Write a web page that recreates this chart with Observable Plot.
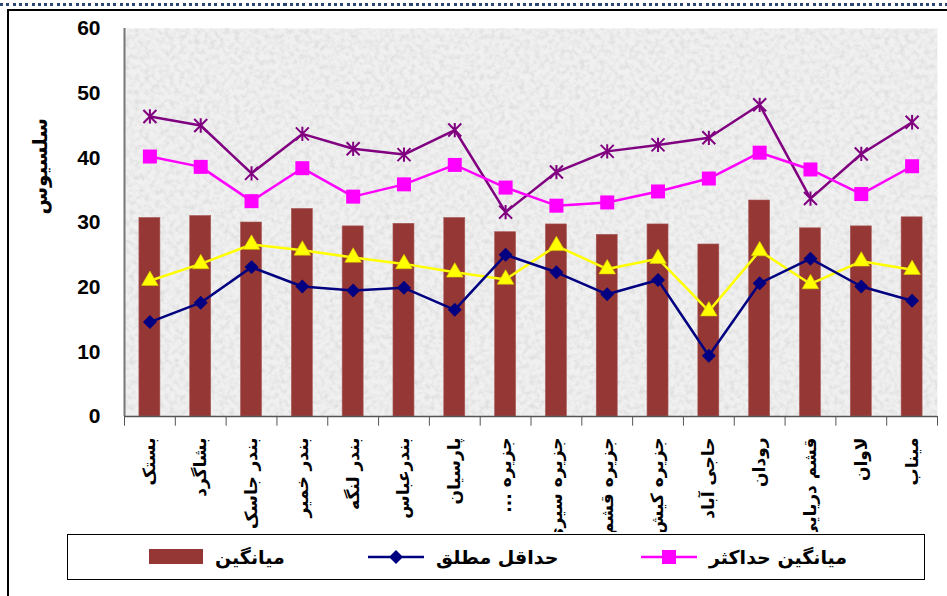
<!DOCTYPE html>
<html><head><meta charset="utf-8">
<script src="https://cdn.jsdelivr.net/npm/d3@7"></script>
<script src="https://cdn.jsdelivr.net/npm/@observablehq/plot@0.6"></script>
<style>
body{margin:0;background:#fff;}
#wrap{position:relative;width:947px;height:596px;overflow:hidden;background:#fff;}
#dots{position:absolute;left:0;top:3px;width:947px;height:3px;background:repeating-linear-gradient(to right,#2b4673 0 3px,transparent 3px 6.3px);}
#border{position:absolute;left:7px;top:9px;width:1200px;height:800px;border-top:2px solid #000;border-left:2px solid #000;}
#chart{position:absolute;left:0;top:0;}
#legend{position:absolute;left:67px;top:534px;width:858px;height:46px;border:1.5px solid #000;background:#fff;box-sizing:border-box;font-family:"DejaVu Sans",sans-serif;font-weight:bold;font-size:19px;color:#000;}
#legend .it{position:absolute;top:0;height:43px;display:flex;align-items:center;}
#legend svg{display:block;}
</style></head>
<body>
<div id="wrap">
  <div id="dots"></div>
  <div id="border"></div>
  <div id="chart"></div>
  <div id="legend"></div>
</div>
<script>
const categories = ["بستک","بشاگرد","بندر جاسک","بندر خمیر","بندر لنگه","بندرعباس","پارسیان","جزیره ...\u200F","جزیره سیری","جزیره قشم","جزیره کیش","حاجی آباد","رودان","قشم دریایی","لاوان","میناب"];
const meanTemp = [30.7,31.0,30.0,32.1,29.4,29.8,30.7,28.5,29.7,28.1,29.7,26.6,33.4,29.1,29.4,30.8];
const absMax   = [46.4,45.0,37.6,43.7,41.4,40.5,44.3,31.6,37.8,41.0,42.0,43.1,48.2,33.7,40.6,45.5];
const meanMax  = [40.2,38.6,33.3,38.4,34.0,35.9,38.9,35.4,32.6,33.1,34.8,36.8,40.8,38.2,34.4,38.7];
const meanMin  = [21.0,23.6,26.6,25.7,24.6,23.6,22.3,21.2,26.4,22.8,24.4,16.3,25.6,20.5,24.0,22.7];
const absMin   = [14.6,17.6,23.1,20.1,19.5,19.9,16.5,25.0,22.3,18.9,21.1,9.4,20.6,24.4,20.1,17.9];
const yTicks = [0,10,20,30,40,50,60];
const yLabel = "سلسیوس";
const legendLabels = ["میانگین","حداقل مطلق","میانگین حداکثر"];

const rows = categories.map((c,i)=>({cat:c, mean:meanTemp[i], absMax:absMax[i], meanMax:meanMax[i], meanMin:meanMin[i], absMin:absMin[i]}));

const W = 947, ML = 124, MR = 10;
const step = (W - ML - MR) / categories.length;

const asterisk = {
  draw(ctx, size) {
    const r = Math.sqrt(size / Math.PI);
    ctx.moveTo(-r, -r); ctx.lineTo(r, r);
    ctx.moveTo(-r, r); ctx.lineTo(r, -r);
    ctx.moveTo(0, -r * 1.1); ctx.lineTo(0, r * 1.1);
  }
};

const chart = Plot.plot({
  width: W, height: 532,
  marginLeft: ML, marginRight: MR, marginTop: 28, marginBottom: 116,
  style: {background: "transparent", overflow: "hidden", fontFamily: "'Liberation Sans', Arial, sans-serif", color: "#000"},
  x: {domain: categories, paddingInner: 0.587, paddingOuter: 0.2935, round: false, label: null},
  y: {domain: [0, 60], label: null},
  marks: [
    Plot.frame({fill: "#f0f0f0", stroke: "none"}),
    Plot.barY(rows, {x: "cat", y: "mean", fill: "#953735", stroke: "#a85a58", strokeWidth: 0.6}),
    Plot.ruleX([categories[0]], {x: d => d, dx: -step/2, y1: 0, y2: 60, stroke: "#777", strokeWidth: 2}),
    Plot.ruleY([0], {stroke: "#555", strokeWidth: 1.5}),
    Plot.ruleX(categories, {x: d => d, dx: -step/2, y1: 0, y2: -1.5, stroke: "#555", strokeWidth: 1}),
    Plot.ruleX([categories[categories.length-1]], {x: d => d, dx: step/2, y1: 0, y2: -1.5, stroke: "#555", strokeWidth: 1}),
    Plot.line(rows, {x: "cat", y: "absMax", stroke: "#800080", strokeWidth: 2.5}),
    Plot.dot(rows, {x: "cat", y: "absMax", symbol: asterisk, r: 6.5, fill: "none", stroke: "#800080", strokeWidth: 2}),
    Plot.line(rows, {x: "cat", y: "meanMax", stroke: "#FF00FF", strokeWidth: 2.5}),
    Plot.dot(rows, {x: "cat", y: "meanMax", symbol: "square", r: 7.9, fill: "#FF00FF", stroke: "none"}),
    Plot.line(rows, {x: "cat", y: "meanMin", stroke: "#FFFF00", strokeWidth: 2.5}),
    Plot.dot(rows, {x: "cat", y: "meanMin", symbol: "triangle", r: 6.2, fill: "#FFFF00", stroke: "#d8c800", strokeWidth: 0.6}),
    Plot.line(rows, {x: "cat", y: "absMin", stroke: "#000080", strokeWidth: 2.5}),
    Plot.dot(rows, {x: "cat", y: "absMin", symbol: "diamond2", r: 6.3, fill: "#000080", stroke: "none"}),
    Plot.axisY(yTicks, {tickSize: 0, tickPadding: 24, fontSize: 21, fontWeight: "bold", label: null, tickFormat: d => String(d)}),
    Plot.axisX({tickSize: 0, tickRotate: -90, tickPadding: 21, fontSize: 17, fontWeight: "bold", fontFamily: "'DejaVu Sans', sans-serif", label: null}),
    Plot.text([yLabel], {frameAnchor: "left", dx: -84, dy: -8, rotate: -90, text: d => d, fontSize: 20, fontWeight: "bold", fontFamily: "'DejaVu Sans', sans-serif", fill: "#000"})
  ]
});
document.getElementById("chart").appendChild(chart);

// subtle paper texture over the frame (placed directly after the frame, beneath the data)
(function(){
  const svg = d3.select(chart);
  let node = svg.select("[aria-label=frame]").node();
  if (!node) return;
  const rectNode = node.tagName === "rect" ? node : node.querySelector("rect");
  if (!rectNode) return;
  const defs = svg.insert("defs", ":first-child");
  const f = defs.append("filter").attr("id", "tex").attr("x", 0).attr("y", 0).attr("width", "100%").attr("height", "100%");
  f.append("feTurbulence").attr("type", "fractalNoise").attr("baseFrequency", 0.2).attr("numOctaves", 3).attr("seed", 7);
  f.append("feColorMatrix").attr("type", "matrix").attr("values", "0 0 0 0 0.55  0 0 0 0 0.55  0 0 0 0 0.55  0.9 0 0 0 -0.36");
  const r = document.createElementNS("http://www.w3.org/2000/svg", "rect");
  ["x","y","width","height"].forEach(a => r.setAttribute(a, rectNode.getAttribute(a)));
  r.setAttribute("fill", "#fff");
  r.setAttribute("filter", "url(#tex)");
  node.parentNode.insertBefore(r, node.nextSibling);
})();

// legend
const leg = document.getElementById("legend");
function item(left, svgMarkup, label) {
  const d = document.createElement("div");
  d.className = "it";
  d.style.left = left + "px";
  d.innerHTML = svgMarkup + '<span style="margin-left:12px">' + label + '</span>';
  leg.appendChild(d);
}
item(81, '<svg width="54" height="15"><rect x="0" y="0" width="54" height="15" fill="#953735"/></svg>', legendLabels[0]);
item(300, '<svg width="56" height="16"><line x1="0" y1="8" x2="56" y2="8" stroke="#000080" stroke-width="2.5"/><path d="M28,1 L35,8 L28,15 L21,8Z" fill="#000080"/></svg>', legendLabels[1]);
item(573, '<svg width="56" height="18"><line x1="0" y1="9" x2="56" y2="9" stroke="#FF00FF" stroke-width="2.5"/><rect x="21" y="2" width="14" height="14" fill="#FF00FF"/></svg>', legendLabels[2]);
</script>
</body></html>
